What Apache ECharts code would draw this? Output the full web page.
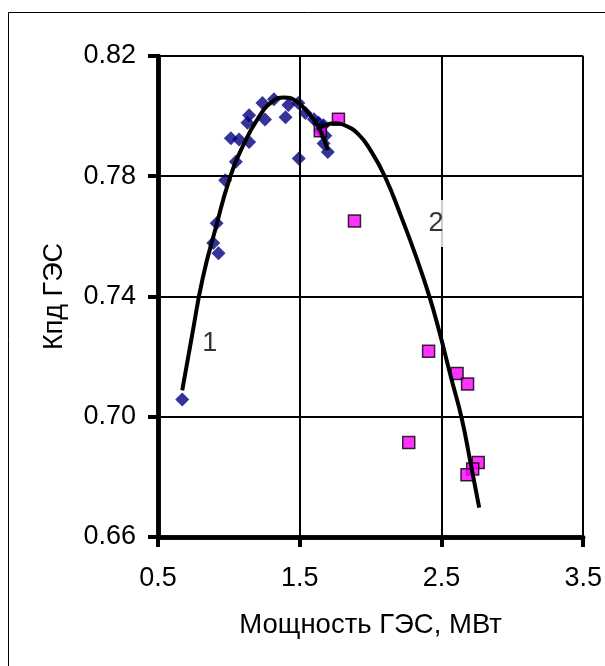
<!DOCTYPE html>
<html>
<head>
<meta charset="utf-8">
<script src="https://cdn.jsdelivr.net/npm/echarts@6/dist/echarts.min.js"></script>
<style>
html,body{margin:0;padding:0;background:#fff;}
#chart{width:605px;height:666px;}
</style>
</head>
<body>
<div id="chart"></div>
<script>
// Series 1 (blue diamonds): [power MW, efficiency]
const series1Points = [
  [0.671, 0.7057], [0.890, 0.7578], [0.927, 0.7544], [0.913, 0.7644],
  [0.974, 0.7787], [1.014, 0.7926], [1.049, 0.7848], [1.072, 0.7922],
  [1.143, 0.7914], [1.131, 0.7978], [1.143, 0.8003], [1.237, 0.8044],
  [1.255, 0.7989], [1.318, 0.8056], [1.400, 0.7996], [1.420, 0.8037],
  [1.490, 0.8044], [1.493, 0.7859], [1.540, 0.8010], [1.600, 0.7990],
  [1.633, 0.7978], [1.668, 0.7970], [1.645, 0.7953], [1.668, 0.7909],
  [1.698, 0.7881], [1.680, 0.7935]
];
// Series 2 (magenta squares)
const series2Points = [
  [1.645, 0.7951], [1.773, 0.7990], [1.886, 0.7651], [2.409, 0.7218],
  [2.610, 0.7144], [2.684, 0.7109], [2.269, 0.6914], [2.759, 0.6848],
  [2.720, 0.6826], [2.680, 0.6807]
];
// Trend curve 1
const curve1 = [
  [0.671, 0.7088], [0.740, 0.7270], [0.815, 0.7460], [0.909, 0.7631],
  [1.002, 0.7787], [1.096, 0.7898], [1.213, 0.7998], [1.306, 0.8048],
  [1.388, 0.8062], [1.470, 0.8051], [1.563, 0.8009], [1.633, 0.7964],
  [1.698, 0.7887]
];
// Trend curve 2
const curve2 = [
  [1.625, 0.7954], [1.680, 0.7970], [1.750, 0.7976], [1.820, 0.7969],
  [1.913, 0.7940], [2.000, 0.7886], [2.100, 0.7800], [2.217, 0.7664],
  [2.322, 0.7531], [2.416, 0.7398], [2.486, 0.7281], [2.567, 0.7131],
  [2.642, 0.6996], [2.707, 0.6842], [2.766, 0.6698]
];
// Curve labels
const curveLabels = [[0.865, 0.7243, '1'], [2.462, 0.7643, '2']];
// Axes
const xMin = 0.5, xMax = 3.5, xStep = 1.0;
const yMin = 0.66, yMax = 0.82, yStep = 0.04;
const xTitle = 'Мощность ГЭС, МВт';
const yTitle = 'Кпд ГЭС';

const FONT = '"Liberation Sans", Arial, sans-serif';
const chart = echarts.init(document.getElementById('chart'), null, {renderer: 'canvas'});
chart.setOption({
  backgroundColor: '#ffffff',
  animation: false,
  graphic: [{
    type: 'rect', z: 0, silent: true,
    shape: {x: 8.5, y: 12.5, width: 700, height: 700},
    style: {fill: 'none', stroke: '#000', lineWidth: 1}
  }],
  grid: {left: 158, right: 19, top: 56, bottom: 129, containLabel: false},
  xAxis: {
    type: 'value', min: xMin, max: xMax, interval: xStep,
    name: xTitle, nameLocation: 'middle', nameGap: 74,
    nameTextStyle: {fontFamily: FONT, fontSize: 27.5, color: '#000'},
    axisLine: {show: true, onZero: false, lineStyle: {color: '#000', width: 4.5}},
    axisTick: {show: true, inside: false, length: 10, lineStyle: {color: '#000', width: 4}},
    axisLabel: {margin: 28, fontFamily: FONT, fontSize: 27, color: '#000',
      formatter: v => v.toFixed(1)},
    splitLine: {show: true, lineStyle: {color: '#000', width: 2}},
    z: 5
  },
  yAxis: {
    type: 'value', min: yMin, max: yMax, interval: yStep,
    name: yTitle, nameLocation: 'middle', nameGap: 90, nameRotate: 90,
    nameTextStyle: {fontFamily: FONT, fontSize: 27, color: '#000'},
    axisLine: {show: true, onZero: false, lineStyle: {color: '#000', width: 4.5}},
    axisTick: {show: true, inside: false, length: 10, lineStyle: {color: '#000', width: 4}},
    axisLabel: {margin: 22, fontFamily: FONT, fontSize: 27, color: '#000',
      formatter: v => v.toFixed(2)},
    splitLine: {show: true, lineStyle: {color: '#000', width: 2}},
    z: 5
  },
  series: [
    {
      type: 'scatter', data: series1Points, symbol: 'diamond', symbolSize: 14,
      itemStyle: {color: '#000080'}, z: 3,
      // thick axis lines along the axis minimums, drawn through the axis scales
      markLine: {
        silent: true, symbol: 'none', z: 7, animation: false,
        label: {show: false},
        lineStyle: {color: '#000', width: 4.5, type: 'solid'},
        data: [{xAxis: xMin}, {yAxis: yMin}]
      }
    },
    {
      type: 'scatter', data: series2Points, symbol: 'rect', symbolSize: 12,
      itemStyle: {color: '#FF00FF', borderColor: '#000', borderWidth: 1.5}, z: 3
    },
    {
      type: 'line', data: curve1, smooth: 0.5, showSymbol: false,
      lineStyle: {color: '#000', width: 4}, z: 4
    },
    {
      type: 'line', data: curve2, smooth: 0.5, showSymbol: false,
      lineStyle: {color: '#000', width: 4}, z: 4
    },
    {
      type: 'scatter', data: curveLabels, symbolSize: 1, itemStyle: {color: 'rgba(0,0,0,0)'}, z: 6,
      label: {show: true, position: 'inside', formatter: p => p.data[2],
        fontFamily: FONT, fontSize: 27, color: '#000', backgroundColor: '#fff',
        padding: [10, 5]}
    }
  ]
});
</script>
</body>
</html>
